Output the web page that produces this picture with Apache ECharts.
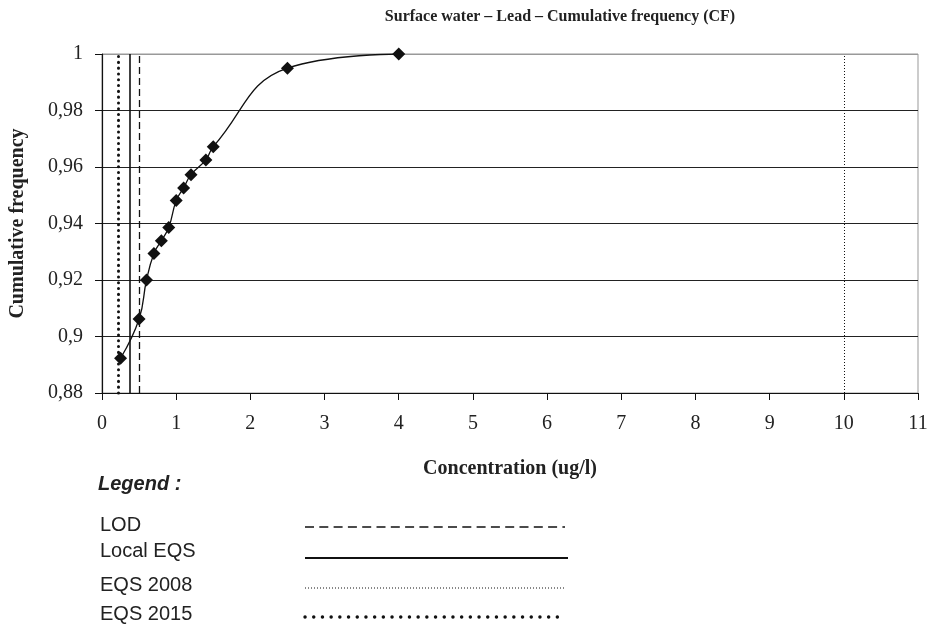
<!DOCTYPE html>
<html><head><meta charset="utf-8">
<script src="https://cdn.jsdelivr.net/npm/echarts@6/dist/echarts.min.js"></script>
<style>html,body{margin:0;padding:0;background:#fff}#c{width:932px;height:626px}</style>
</head><body><div id="c"></div>
<script>
const concentration = [0.25, 0.5, 0.6, 0.7, 0.8, 0.9, 1.0, 1.1, 1.2, 1.4, 1.5, 2.5, 4.0];
const cumFreq = [0.8923, 0.9062, 0.92, 0.9294, 0.9339, 0.9386, 0.9481, 0.9526, 0.9573, 0.9625, 0.9672, 0.995, 1.0];
const refNames = ['LOD', 'Local EQS', 'EQS 2008', 'EQS 2015'];
const refValues = [0.5, 0.37, 10, 0.22];
const xMin = 0, xMax = 11, xStep = 1;
const yMin = 0.88, yMax = 1, yStep = 0.02;

const serif = '"Liberation Serif", "Times New Roman", serif';
const sans = '"Liberation Sans", Arial, sans-serif';

const refStyles = [
  {color: '#111', width: 1.3, type: [7, 4]},
  {color: '#111', width: 1.6, type: 'solid'},
  {color: '#111', width: 1, type: [1, 2]},
  {color: '#111', width: 3, type: [0.1, 5.7], cap: 'round'}
];
const legendDash = [[9, 5.3], null, [1, 2], [0.1, 8.6]];
const legendWidth = [1.5, 1.8, 1, 3.4];

const chart = echarts.init(document.getElementById('c'));
const legendY = [527, 558, 588, 617];
const legendTextY = [526, 552, 586, 615];
const graphics = [{
  type: 'text', left: 98, top: 474,
  style: {text: 'Legend :', font: 'italic bold 20px ' + sans, fill: '#222'}
}];
refNames.forEach((n, i) => {
  graphics.push({type: 'text', left: 100, top: legendTextY[i] - 11,
    style: {text: n, font: '20px ' + sans, fill: '#222'}});
  graphics.push({type: 'line', shape: {x1: 305, y1: legendY[i], x2: i === 1 ? 568 : 565, y2: legendY[i]},
    style: {stroke: '#111', lineWidth: legendWidth[i], lineDash: legendDash[i], lineCap: i === 3 ? 'round' : 'butt'}});
});

const splitColors = [];
for (let v = yMin; v <= yMax + 1e-9; v += yStep) splitColors.push('#222');
splitColors[splitColors.length - 1] = '#999';

chart.setOption({
  animation: false,
  backgroundColor: '#fff',
  title: {
    text: 'Surface water \u2013 Lead \u2013 Cumulative frequency (CF)',
    left: 555, top: 4, textAlign: 'center',
    textStyle: {fontFamily: serif, fontSize: 16, fontWeight: 'bold', color: '#222'}
  },
  grid: {left: 101, right: 14, top: 54, bottom: 233, show: true, borderColor: '#999', borderWidth: 1},
  xAxis: {
    type: 'value', min: xMin, max: xMax, interval: xStep,
    name: 'Concentration (ug/l)', nameLocation: 'middle', nameGap: 66,
    nameTextStyle: {fontFamily: serif, fontSize: 20, fontWeight: 'bold', color: '#222'},
    axisLine: {show: true, lineStyle: {color: '#111', width: 1.2}},
    axisTick: {show: true, length: 7, lineStyle: {color: '#111'}},
    axisLabel: {margin: 21, fontFamily: serif, fontSize: 20, color: '#222'},
    splitLine: {show: false}
  },
  yAxis: {
    type: 'value', min: yMin, max: yMax, interval: yStep,
    name: 'Cumulative frequency', nameLocation: 'middle', nameGap: 74, nameRotate: 90,
    nameTextStyle: {fontFamily: serif, fontSize: 20, fontWeight: 'bold', color: '#222'},
    axisLine: {show: true, lineStyle: {color: '#111', width: 1.2}},
    axisTick: {show: true, length: 7, lineStyle: {color: '#111'}},
    axisLabel: {margin: 19, fontFamily: serif, fontSize: 20, color: '#222',
      formatter: v => String(+v.toFixed(2)).replace('.', ',')},
    splitLine: {show: true, lineStyle: {color: splitColors, width: 1.2}}
  },
  graphic: graphics,
  series: [{
    type: 'line',
    data: concentration.map((x, i) => [x, cumFreq[i]]),
    smooth: 0.45,
    symbol: 'diamond', symbolSize: 13,
    itemStyle: {color: '#111'},
    lineStyle: {color: '#111', width: 1.3},
    z: 5,
    markLine: {
      silent: true, symbol: 'none', label: {show: false},
      data: refValues.map((v, i) => ({xAxis: v, lineStyle: refStyles[i]}))
    }
  }]
});
</script></body></html>
